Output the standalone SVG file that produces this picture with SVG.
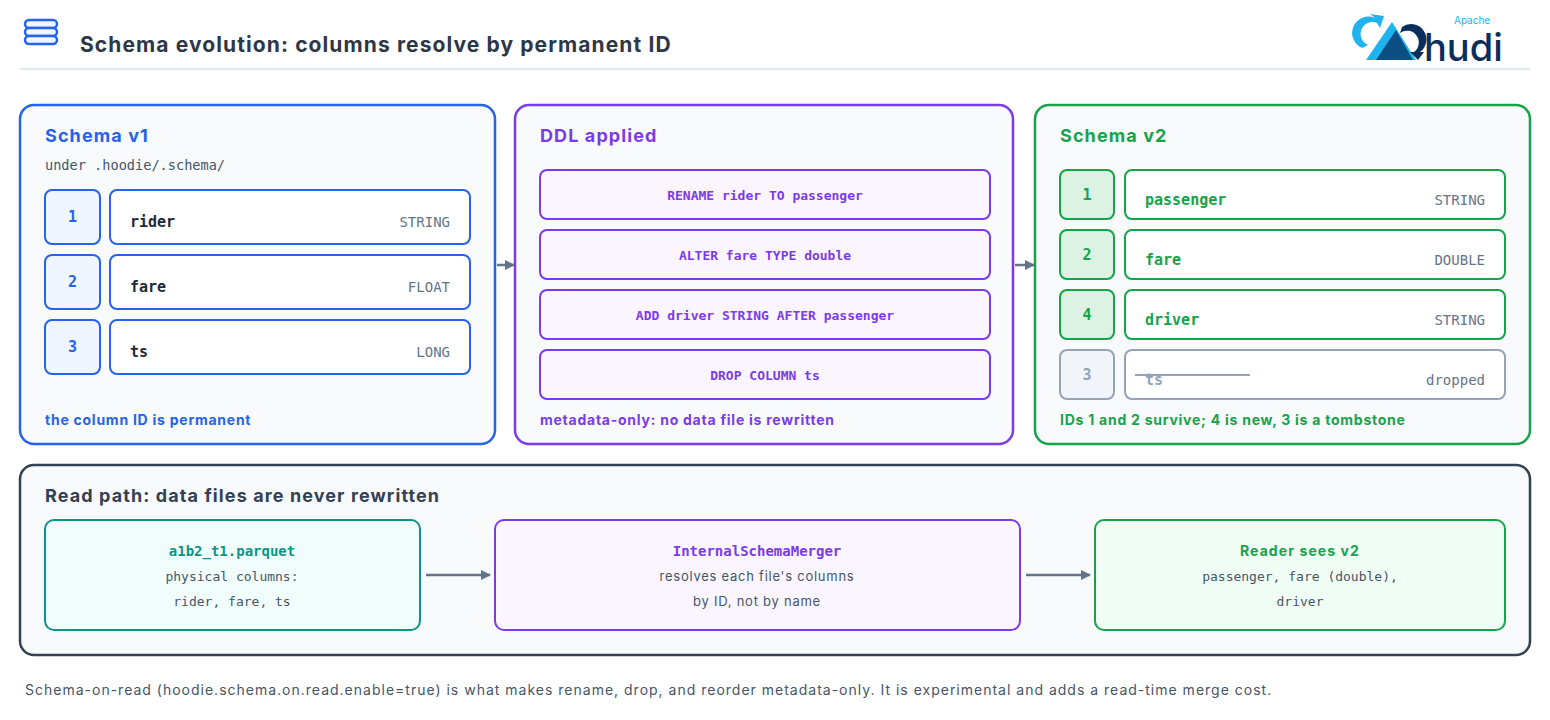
<svg xmlns="http://www.w3.org/2000/svg" width="1550" height="720" viewBox="0 0 1550 720">
<defs>
<marker id="ah" markerWidth="10" markerHeight="10" refX="9" refY="5" orient="auto" markerUnits="userSpaceOnUse"><path d="M0,0 L10,5 L0,10 z" fill="#64748b"/></marker>
<style>
.sans{font-family:Inter,"Liberation Sans",sans-serif}
.mono{font-family:"DejaVu Sans Mono","Liberation Mono",monospace}
.panel{fill:#f8fafc;stroke-width:2.5}
.ph{font-family:Inter,"Liberation Sans",sans-serif;font-weight:700;font-size:18px;letter-spacing:1.1px}
.cap{font-family:Inter,"Liberation Sans",sans-serif;font-weight:700;font-size:14px;letter-spacing:0.75px}
.conn{stroke:#64748b;stroke-width:2.5;fill:none}
</style>
</defs>
<rect width="1550" height="720" fill="#ffffff"/>
<g id="header">
<g fill="#eff6ff" stroke="#2563eb" stroke-width="2.5">
<rect x="25" y="20" width="32" height="8" rx="4"/>
<rect x="25" y="28" width="32" height="8" rx="4"/>
<rect x="25" y="36" width="32" height="8" rx="4"/>
</g>
<text x="80" y="52" class="sans" font-size="21" font-weight="700" fill="#2d3748" letter-spacing="1.1">Schema evolution: columns resolve by permanent ID</text>
<line x1="20" y1="69" x2="1530" y2="69" stroke="#e2e8f0" stroke-width="2"/>
</g>
<g id="logo">
<path d="M1362,48 A16,16 0 0 1 1375,18 L1370,14 L1384,16 L1380,28 L1377,23 A11,11 0 0 0 1368,45 z" fill="#1fb3f0"/>
<polygon points="1366,60 1392,22 1416,60" fill="#1fb3f0"/>
<polygon points="1376,60 1396,30 1413,60" fill="#0b4f85"/>
<path d="M1402,27 A15,15 0 0 1 1420,52 L1424,52 L1418,60 L1410,52 L1414,52 A9,9 0 0 0 1400,33 z" fill="#0b2f5c"/>
<text x="1454" y="24" class="sans" font-size="10" fill="#1fb3f0">Apache</text>
<text x="1424" y="61" class="sans" font-size="38" font-weight="500" fill="#0b2f5c">hudi</text>
</g>
<g id="schema-v1">
<rect x="20" y="105" width="475" height="339" rx="14" class="panel" stroke="#2563eb"/>
<text x="45" y="142" class="ph" fill="#2563eb">Schema v1</text>
<text x="45" y="170" class="mono" font-size="13.6" fill="#475569">under .hoodie/.schema/</text>
<g stroke="#2563eb" stroke-width="2">
<rect x="45" y="190" width="55" height="54" rx="7" fill="#eff6ff"/>
<rect x="110" y="190" width="360" height="54" rx="7" fill="#fff"/>
<rect x="45" y="255" width="55" height="54" rx="7" fill="#eff6ff"/>
<rect x="110" y="255" width="360" height="54" rx="7" fill="#fff"/>
<rect x="45" y="320" width="55" height="54" rx="7" fill="#eff6ff"/>
<rect x="110" y="320" width="360" height="54" rx="7" fill="#fff"/>
</g>
<g class="mono" font-size="15" font-weight="700">
<text x="72.5" y="222" text-anchor="middle" fill="#2563eb">1</text>
<text x="72.5" y="287" text-anchor="middle" fill="#2563eb">2</text>
<text x="72.5" y="352" text-anchor="middle" fill="#2563eb">3</text>
<text x="130" y="227" fill="#1e293b">rider</text>
<text x="130" y="292" fill="#1e293b">fare</text>
<text x="130" y="357" fill="#1e293b">ts</text>
</g>
<g class="mono" font-size="14" fill="#64748b" text-anchor="end">
<text x="450" y="227">STRING</text>
<text x="450" y="292">FLOAT</text>
<text x="450" y="357">LONG</text>
</g>
<text x="45" y="425" class="cap" fill="#2563eb">the column ID is permanent</text>
</g>
<g id="ddl">
<rect x="515" y="105" width="498" height="339" rx="14" class="panel" stroke="#7c3aed"/>
<text x="540" y="142" class="ph" fill="#7c3aed">DDL applied</text>
<g stroke="#7c3aed" stroke-width="2" fill="#faf5ff">
<rect x="540" y="170" width="450" height="49" rx="7"/>
<rect x="540" y="230" width="450" height="49" rx="7"/>
<rect x="540" y="290" width="450" height="49" rx="7"/>
<rect x="540" y="350" width="450" height="49" rx="7"/>
</g>
<g class="mono" font-size="13" font-weight="700" fill="#7c3aed" text-anchor="middle">
<text x="765" y="200">RENAME rider TO passenger</text>
<text x="765" y="260">ALTER fare TYPE double</text>
<text x="765" y="320">ADD driver STRING AFTER passenger</text>
<text x="765" y="380">DROP COLUMN ts</text>
</g>
<text x="540" y="425" class="cap" fill="#7c3aed">metadata-only: no data file is rewritten</text>
</g>
<g id="schema-v2">
<rect x="1035" y="105" width="495" height="339" rx="14" class="panel" stroke="#16a34a"/>
<text x="1060" y="142" class="ph" fill="#16a34a">Schema v2</text>
<g stroke="#16a34a" stroke-width="2">
<rect x="1060" y="170" width="54" height="49" rx="7" fill="#dcf2e3"/>
<rect x="1125" y="170" width="380" height="49" rx="7" fill="#fff"/>
<rect x="1060" y="230" width="54" height="49" rx="7" fill="#dcf2e3"/>
<rect x="1125" y="230" width="380" height="49" rx="7" fill="#fff"/>
<rect x="1060" y="290" width="54" height="49" rx="7" fill="#dcf2e3"/>
<rect x="1125" y="290" width="380" height="49" rx="7" fill="#fff"/>
</g>
<g stroke="#94a3b8" stroke-width="2">
<rect x="1060" y="350" width="54" height="49" rx="7" fill="#f1f5f9"/>
<rect x="1125" y="350" width="380" height="49" rx="7" fill="#fff"/>
</g>
<g class="mono" font-size="15" font-weight="700">
<text x="1087" y="200" text-anchor="middle" fill="#16a34a">1</text>
<text x="1087" y="260" text-anchor="middle" fill="#16a34a">2</text>
<text x="1087" y="320" text-anchor="middle" fill="#16a34a">4</text>
<text x="1087" y="380" text-anchor="middle" fill="#94a3b8">3</text>
<text x="1145" y="205" fill="#16a34a">passenger</text>
<text x="1145" y="265" fill="#16a34a">fare</text>
<text x="1145" y="325" fill="#16a34a">driver</text>
<text x="1145" y="385" fill="#94a3b8">ts</text>
</g>
<line x1="1135" y1="375" x2="1250" y2="375" stroke="#94a3b8" stroke-width="2"/>
<g class="mono" font-size="14" fill="#64748b" text-anchor="end">
<text x="1485" y="205">STRING</text>
<text x="1485" y="265">DOUBLE</text>
<text x="1485" y="325">STRING</text>
<text x="1485" y="385">dropped</text>
</g>
<text x="1060" y="425" class="cap" fill="#16a34a">IDs 1 and 2 survive; 4 is new, 3 is a tombstone</text>
</g>
<g id="read-path">
<rect x="20" y="465" width="1510" height="190" rx="14" class="panel" stroke="#334155"/>
<text x="45" y="502" class="ph" font-size="17" fill="#334155">Read path: data files are never rewritten</text>
</g>
<g id="parquet">
<rect x="45" y="520" width="375" height="110" rx="9" fill="#f0fdfa" stroke="#0d9488" stroke-width="2"/>
<text x="232" y="556" text-anchor="middle" class="mono" font-size="14" font-weight="700" fill="#0d9488">a1b2_t1.parquet</text>
<text x="232" y="581" text-anchor="middle" class="mono" font-size="13" fill="#475569">physical columns:</text>
<text x="232" y="606" text-anchor="middle" class="mono" font-size="13" fill="#475569">rider, fare, ts</text>
</g>
<g id="merger">
<rect x="495" y="520" width="525" height="110" rx="9" fill="#faf5ff" stroke="#7c3aed" stroke-width="2"/>
<text x="757" y="556" text-anchor="middle" class="mono" font-size="14" font-weight="700" fill="#7c3aed">InternalSchemaMerger</text>
<text x="757" y="581" text-anchor="middle" class="sans" font-size="13" fill="#475569" letter-spacing="0.75">resolves each file's columns</text>
<text x="757" y="606" text-anchor="middle" class="sans" font-size="13" fill="#475569" letter-spacing="0.75">by ID, not by name</text>
</g>
<g id="reader">
<rect x="1095" y="520" width="410" height="110" rx="9" fill="#f0fdf4" stroke="#16a34a" stroke-width="2"/>
<text x="1300" y="556" text-anchor="middle" class="sans" font-size="14" font-weight="700" fill="#16a34a" letter-spacing="1.1">Reader sees v2</text>
<text x="1300" y="581" text-anchor="middle" class="mono" font-size="13" fill="#475569">passenger, fare (double),</text>
<text x="1300" y="606" text-anchor="middle" class="mono" font-size="13" fill="#475569">driver</text>
</g>
<g id="connectors">
<line x1="497" y1="265" x2="514" y2="265" class="conn" marker-end="url(#ah)"/>
<line x1="1015" y1="265" x2="1034" y2="265" class="conn" marker-end="url(#ah)"/>
<line x1="426" y1="575" x2="490" y2="575" class="conn" marker-end="url(#ah)"/>
<line x1="1026" y1="575" x2="1090" y2="575" class="conn" marker-end="url(#ah)"/>
</g>
<text x="25" y="695" class="sans" font-size="14" fill="#475569" letter-spacing="1">Schema-on-read (hoodie.schema.on.read.enable=true) is what makes rename, drop, and reorder metadata-only. It is experimental and adds a read-time merge cost.</text>
</svg>
